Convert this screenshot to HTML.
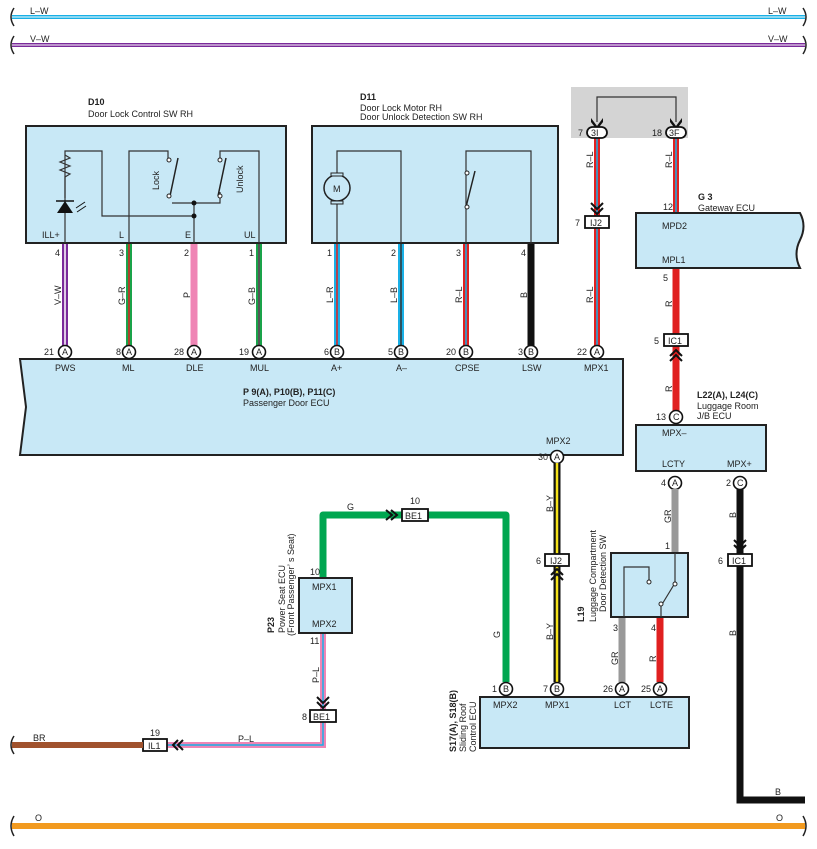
<!DOCTYPE html>
<html><head><meta charset="utf-8"><style>
html,body{margin:0;padding:0;background:#fff}
svg{display:block}
text{font-family:"Liberation Sans",sans-serif;font-size:9px;fill:#222}
.b{font-weight:bold}
.box{fill:#c8e8f6;stroke:#222;stroke-width:2}
.in{fill:none;stroke:#333;stroke-width:1.2}
.pc{fill:#fff;stroke:#111;stroke-width:1.6}
.cn{fill:#fff;stroke:#111;stroke-width:1.8}
</style></head><body>
<svg width="817" height="849" viewBox="0 0 817 849" xmlns="http://www.w3.org/2000/svg">
<!-- top buses -->
<line x1="12" y1="17" x2="805" y2="17" stroke="#1ab0e6" stroke-width="4"/>
<line x1="12" y1="17" x2="805" y2="17" stroke="#fff" stroke-width="1"/>
<line x1="12" y1="45" x2="805" y2="45" stroke="#7a2a9a" stroke-width="4"/>
<line x1="12" y1="45" x2="805" y2="45" stroke="#fff" stroke-width="1"/>
<path d="M14 8 Q8 17 14 26 M14 36 Q8 45 14 54 M803 8 Q809 17 803 26 M803 36 Q809 45 803 54" stroke="#222" fill="none" stroke-width="1.5"/>
<text x="30" y="14">L–W</text><text x="768" y="14">L–W</text>
<text x="30" y="42">V–W</text><text x="768" y="42">V–W</text>
<!-- bottom bus -->
<line x1="12" y1="826" x2="805" y2="826" stroke="#f29a1f" stroke-width="6"/>
<path d="M14 816 Q8 826 14 836 M803 816 Q809 826 803 836" stroke="#222" fill="none" stroke-width="1.5"/>
<text x="35" y="821">O</text><text x="776" y="821">O</text>

<!-- gray area -->
<rect x="571" y="87" width="117" height="51" fill="#d4d4d4"/>
<path d="M597 122 V97 H676 V122" class="in" stroke-width="1.4"/>
<path d="M591 118 L597 126 L603 118 L603 122 L597 130 L591 122Z M670 118 L676 126 L682 118 L682 122 L676 130 L670 122Z" fill="#111"/>

<!-- D10 -->
<text x="88" y="105" class="b">D10</text><text x="88" y="117">Door Lock Control SW RH</text>
<rect x="26" y="126" width="260" height="117" class="box"/>
<path d="M65 243 V151 H102 V216 H194 M129 243 V151 H168 V158 M194 243 V203 M172 203 H220 V192 M220 158 V151 H259 V243" class="in"/>
<path d="M65 155 l5 3 l-10 4 l10 4 l-10 4 l10 4 l-5 3 V198" class="in"/>
<path d="M57 213 L73 213 L65 201 Z" fill="#111"/><line x1="56" y1="201" x2="74" y2="201" stroke="#111" stroke-width="1.5"/>
<path d="M76 208 l9 -6 M77 212 l9 -6" stroke="#111" stroke-width="1"/>
<line x1="170" y1="196" x2="178" y2="158" stroke="#222" stroke-width="1.5"/>
<line x1="218" y1="196" x2="226" y2="158" stroke="#222" stroke-width="1.5"/>
<circle cx="169" cy="160" r="2" fill="#fff" stroke="#222"/><circle cx="169" cy="196" r="2" fill="#fff" stroke="#222"/>
<circle cx="220" cy="160" r="2" fill="#fff" stroke="#222"/><circle cx="220" cy="196" r="2" fill="#fff" stroke="#222"/>
<circle cx="194" cy="203" r="2.5" fill="#111"/><circle cx="194" cy="216" r="2.5" fill="#111"/>
<text transform="translate(159,190) rotate(-90)">Lock</text>
<text transform="translate(243,193) rotate(-90)">Unlock</text>
<text x="42" y="238">ILL+</text><text x="119" y="238">L</text><text x="185" y="238">E</text><text x="244" y="238">UL</text>

<!-- D11 -->
<text x="360" y="100" class="b">D11</text><text x="360" y="111">Door Lock Motor RH</text><text x="360" y="120">Door Unlock Detection SW RH</text>
<rect x="312" y="126" width="246" height="117" class="box"/>
<path d="M337 243 V151 H401 V243 M466 243 V151 H531 V243" class="in"/>
<circle cx="337" cy="188" r="13" fill="#c8e8f6" stroke="#222" stroke-width="1.5"/>
<rect x="331" y="173" width="12" height="3" fill="#c8e8f6" stroke="#222"/><rect x="331" y="201" width="12" height="3" fill="#c8e8f6" stroke="#222"/>
<text x="333" y="192">M</text>
<line x1="466" y1="207" x2="475" y2="171" stroke="#222" stroke-width="1.5"/>
<circle cx="467" cy="173" r="2" fill="#fff" stroke="#222"/><circle cx="467" cy="207" r="2" fill="#fff" stroke="#222"/>

<!-- vertical wires D10/D11 -> ECU -->
<g>
<line x1="65" y1="244" x2="65" y2="346" stroke="#7a2a9a" stroke-width="6"/><line x1="65" y1="244" x2="65" y2="346" stroke="#fff" stroke-width="1.5"/>
<line x1="129" y1="244" x2="129" y2="346" stroke="#1aa34a" stroke-width="6"/><line x1="129" y1="244" x2="129" y2="346" stroke="#e02020" stroke-width="1.5"/>
<line x1="194" y1="244" x2="194" y2="346" stroke="#ef85b5" stroke-width="7"/>
<line x1="259" y1="244" x2="259" y2="346" stroke="#1aa34a" stroke-width="6"/><line x1="259" y1="244" x2="259" y2="346" stroke="#555" stroke-width="2"/>
<line x1="337" y1="244" x2="337" y2="346" stroke="#1ab0e6" stroke-width="6"/><line x1="337" y1="244" x2="337" y2="346" stroke="#e02020" stroke-width="1.5"/>
<line x1="401" y1="244" x2="401" y2="346" stroke="#1ab0e6" stroke-width="6"/><line x1="401" y1="244" x2="401" y2="346" stroke="#333" stroke-width="1.5"/>
<line x1="466" y1="244" x2="466" y2="346" stroke="#e02020" stroke-width="6"/><line x1="466" y1="244" x2="466" y2="346" stroke="#1ab0e6" stroke-width="1.5"/>
<line x1="531" y1="244" x2="531" y2="346" stroke="#111" stroke-width="7"/>
<line x1="597" y1="138" x2="597" y2="346" stroke="#e02020" stroke-width="6"/><line x1="597" y1="138" x2="597" y2="346" stroke="#1ab0e6" stroke-width="1.5"/>
<line x1="676" y1="138" x2="676" y2="213" stroke="#e02020" stroke-width="6"/><line x1="676" y1="138" x2="676" y2="213" stroke="#1ab0e6" stroke-width="1.5"/>
</g>
<g font-size="9">
<text x="55" y="256">4</text><text x="119" y="256">3</text><text x="184" y="256">2</text><text x="249" y="256">1</text>
<text x="327" y="256">1</text><text x="391" y="256">2</text><text x="456" y="256">3</text><text x="521" y="256">4</text>
<text transform="translate(61,305) rotate(-90)">V–W</text><text transform="translate(125,305) rotate(-90)">G–R</text>
<text transform="translate(190,298) rotate(-90)">P</text><text transform="translate(255,305) rotate(-90)">G–B</text>
<text transform="translate(333,303) rotate(-90)">L–R</text><text transform="translate(397,303) rotate(-90)">L–B</text>
<text transform="translate(462,303) rotate(-90)">R–L</text><text transform="translate(527,298) rotate(-90)">B</text>
<text transform="translate(593,303) rotate(-90)">R–L</text><text transform="translate(593,168) rotate(-90)">R–L</text>
<text transform="translate(672,168) rotate(-90)">R–L</text>
</g>
<!-- 3I 3F connectors -->
<rect x="587" y="127" width="20" height="11" rx="5.5" class="cn"/><text x="591" y="136">3I</text><text x="578" y="136">7</text>
<rect x="666" y="127" width="20" height="11" rx="5.5" class="cn"/><text x="669" y="136">3F</text><text x="652" y="136">18</text>
<!-- IJ2 top -->
<path d="M591 203 l6 6 l6 -6 M591 208 l6 6 l6 -6" stroke="#111" fill="none" stroke-width="2"/>
<rect x="585" y="216" width="24" height="12" class="cn"/><text x="590" y="226">IJ2</text><text x="575" y="226">7</text>

<!-- Passenger ECU -->
<path d="M20 359 H623 V455 H20 L26 407 Z" class="box"/>
<g>
<circle cx="65" cy="352" r="6.5" class="pc"/><circle cx="129" cy="352" r="6.5" class="pc"/><circle cx="194" cy="352" r="6.5" class="pc"/><circle cx="259" cy="352" r="6.5" class="pc"/>
<circle cx="337" cy="352" r="6.5" class="pc"/><circle cx="401" cy="352" r="6.5" class="pc"/><circle cx="466" cy="352" r="6.5" class="pc"/><circle cx="531" cy="352" r="6.5" class="pc"/><circle cx="597" cy="352" r="6.5" class="pc"/>
</g>
<g font-size="8.5">
<text x="62" y="355">A</text><text x="126" y="355">A</text><text x="191" y="355">A</text><text x="256" y="355">A</text>
<text x="334" y="355">B</text><text x="398" y="355">B</text><text x="463" y="355">B</text><text x="528" y="355">B</text><text x="594" y="355">A</text>
</g>
<text x="44" y="355">21</text><text x="116" y="355">8</text><text x="174" y="355">28</text><text x="239" y="355">19</text>
<text x="324" y="355">6</text><text x="388" y="355">5</text><text x="446" y="355">20</text><text x="518" y="355">3</text><text x="577" y="355">22</text>
<text x="55" y="371">PWS</text><text x="122" y="371">ML</text><text x="186" y="371">DLE</text><text x="250" y="371">MUL</text>
<text x="331" y="371">A+</text><text x="396" y="371">A–</text><text x="455" y="371">CPSE</text><text x="522" y="371">LSW</text><text x="584" y="371">MPX1</text>
<text x="243" y="395" class="b">P 9(A), P10(B), P11(C)</text><text x="243" y="406">Passenger Door ECU</text>
<text x="546" y="444">MPX2</text>
<circle cx="557" cy="457" r="6.5" class="pc"/><text x="554" y="460" font-size="8.5">A</text><text x="538" y="460">30</text>

<!-- Gateway -->
<text x="698" y="200" class="b">G 3</text><text x="698" y="211">Gateway ECU</text>
<path d="M636 213 H800 Q807 226 800 240 Q793 254 800 268 H636 Z" class="box"/>
<text x="663" y="210">12</text><text x="662" y="229">MPD2</text><text x="662" y="263">MPL1</text>
<line x1="676" y1="269" x2="676" y2="411" stroke="#e02020" stroke-width="7"/>
<text x="663" y="281">5</text><text transform="translate(672,392) rotate(-90)">R</text>
<text transform="translate(672,307) rotate(-90)">R</text>
<rect x="664" y="334" width="24" height="12" class="cn"/><text x="668" y="344">IC1</text><text x="654" y="344">5</text>
<path d="M670 356 l6 -6 l6 6 M670 361 l6 -6 l6 6" stroke="#111" fill="none" stroke-width="2"/>

<!-- L22 -->
<text x="697" y="398" class="b">L22(A), L24(C)</text><text x="697" y="409">Luggage Room</text><text x="697" y="419">J/B ECU</text>
<rect x="636" y="425" width="130" height="46" class="box"/>
<circle cx="676" cy="417" r="6.5" class="pc"/><text x="673" y="420" font-size="8.5">C</text><text x="656" y="420">13</text>
<text x="662" y="436">MPX–</text><text x="662" y="467">LCTY</text><text x="727" y="467">MPX+</text>
<circle cx="675" cy="483" r="6.5" class="pc"/><text x="672" y="486" font-size="8.5">A</text><text x="661" y="486">4</text>
<circle cx="740" cy="483" r="6.5" class="pc"/><text x="737" y="486" font-size="8.5">C</text><text x="726" y="486">2</text>
<line x1="675" y1="489" x2="675" y2="553" stroke="#999" stroke-width="7"/>
<text transform="translate(671,523) rotate(-90)">GR</text><text x="665" y="549">1</text>
<path d="M740 489 V800 H805" stroke="#111" stroke-width="7" fill="none"/>
<text transform="translate(736,518) rotate(-90)">B</text><text transform="translate(736,636) rotate(-90)">B</text><text x="775" y="795">B</text>
<path d="M734 540 l6 6 l6 -6 M734 545 l6 6 l6 -6" stroke="#111" fill="none" stroke-width="2"/>
<rect x="728" y="554" width="24" height="12" class="cn"/><text x="732" y="564">IC1</text><text x="718" y="564">6</text>

<!-- L19 -->
<rect x="611" y="553" width="77" height="64" class="box"/>
<path d="M624 617 V567 H649 V580 M675 553 V583 L661 606 V617" class="in"/>
<circle cx="649" cy="582" r="2" fill="#fff" stroke="#222"/><circle cx="661" cy="604" r="2" fill="#fff" stroke="#222"/><circle cx="675" cy="584" r="2" fill="#fff" stroke="#222"/>
<text transform="translate(584,622) rotate(-90)" class="b">L19</text>
<text transform="translate(596,622) rotate(-90)">Luggage Compartment</text>
<text transform="translate(606,612) rotate(-90)">Door Detection SW</text>
<line x1="622" y1="618" x2="622" y2="682" stroke="#999" stroke-width="7"/>
<line x1="660" y1="618" x2="660" y2="682" stroke="#e02020" stroke-width="7"/>
<text x="613" y="631">3</text><text x="651" y="631">4</text>
<text transform="translate(618,665) rotate(-90)">GR</text><text transform="translate(656,662) rotate(-90)">R</text>

<!-- B-Y wire -->
<line x1="557" y1="463" x2="557" y2="682" stroke="#111" stroke-width="7"/>
<line x1="557" y1="463" x2="557" y2="682" stroke="#f5e21a" stroke-width="2.5"/>
<text transform="translate(553,512) rotate(-90)">B–Y</text><text transform="translate(553,640) rotate(-90)">B–Y</text>
<rect x="545" y="554" width="24" height="12" class="cn"/><text x="550" y="564">IJ2</text><text x="536" y="564">6</text>
<path d="M551 575 l6 -6 l6 6 M551 580 l6 -6 l6 6" stroke="#111" fill="none" stroke-width="2"/>

<!-- G wire -->
<path d="M323 578 V515 H506 V682" stroke="#00a650" stroke-width="7" fill="none" stroke-linejoin="round"/>
<text x="347" y="510">G</text><text transform="translate(500,638) rotate(-90)">G</text>
<path d="M386 510 l6 5 l-6 5 M391 510 l6 5 l-6 5" stroke="#111" fill="none" stroke-width="2"/>
<rect x="402" y="509" width="26" height="12" class="cn"/><text x="405" y="519">BE1</text><text x="410" y="504">10</text>

<!-- P23 -->
<rect x="299" y="578" width="53" height="55" class="box"/>
<text x="312" y="590">MPX1</text><text x="312" y="627">MPX2</text><text x="310" y="575">10</text><text x="310" y="644">11</text>
<text transform="translate(274,633) rotate(-90)" class="b">P23</text>
<text transform="translate(285,633) rotate(-90)">Power Seat ECU</text>
<text transform="translate(294,636) rotate(-90)">(Front Passenger’ s Seat)</text>
<path d="M323 634 V745 H163" stroke="#ef85b5" stroke-width="6" fill="none"/>
<path d="M323 634 V745 H163" stroke="#1ab0e6" stroke-width="1.5" fill="none"/>
<text transform="translate(319,683) rotate(-90)">P–L</text><text x="238" y="742">P–L</text>
<path d="M317 697 l6 6 l6 -6 M317 702 l6 6 l6 -6" stroke="#111" fill="none" stroke-width="2"/>
<rect x="310" y="710" width="26" height="12" class="cn"/><text x="313" y="720">BE1</text><text x="302" y="720">8</text>
<rect x="143" y="739" width="24" height="12" class="cn"/><text x="148" y="749">IL1</text><text x="150" y="736">19</text>
<path d="M178 740 l-5 5 l5 5 M183 740 l-5 5 l5 5" stroke="#111" fill="none" stroke-width="2"/>
<line x1="12" y1="745" x2="143" y2="745" stroke="#a0522d" stroke-width="6"/>
<path d="M14 736 Q8 745 14 754" stroke="#222" fill="none" stroke-width="1.5"/>
<text x="33" y="741">BR</text>

<!-- Sliding roof ECU -->
<rect x="480" y="697" width="209" height="51" class="box"/>
<circle cx="506" cy="689" r="6.5" class="pc"/><text x="503" y="692" font-size="8.5">B</text><text x="492" y="692">1</text>
<circle cx="557" cy="689" r="6.5" class="pc"/><text x="554" y="692" font-size="8.5">B</text><text x="543" y="692">7</text>
<circle cx="622" cy="689" r="6.5" class="pc"/><text x="619" y="692" font-size="8.5">A</text><text x="603" y="692">26</text>
<circle cx="660" cy="689" r="6.5" class="pc"/><text x="657" y="692" font-size="8.5">A</text><text x="641" y="692">25</text>
<text x="493" y="708">MPX2</text><text x="545" y="708">MPX1</text><text x="614" y="708">LCT</text><text x="650" y="708">LCTE</text>
<text transform="translate(456,752) rotate(-90)" class="b">S17(A), S18(B)</text>
<text transform="translate(466,752) rotate(-90)">Sliding Roof</text>
<text transform="translate(476,752) rotate(-90)">Control ECU</text>
</svg>
</body></html>
